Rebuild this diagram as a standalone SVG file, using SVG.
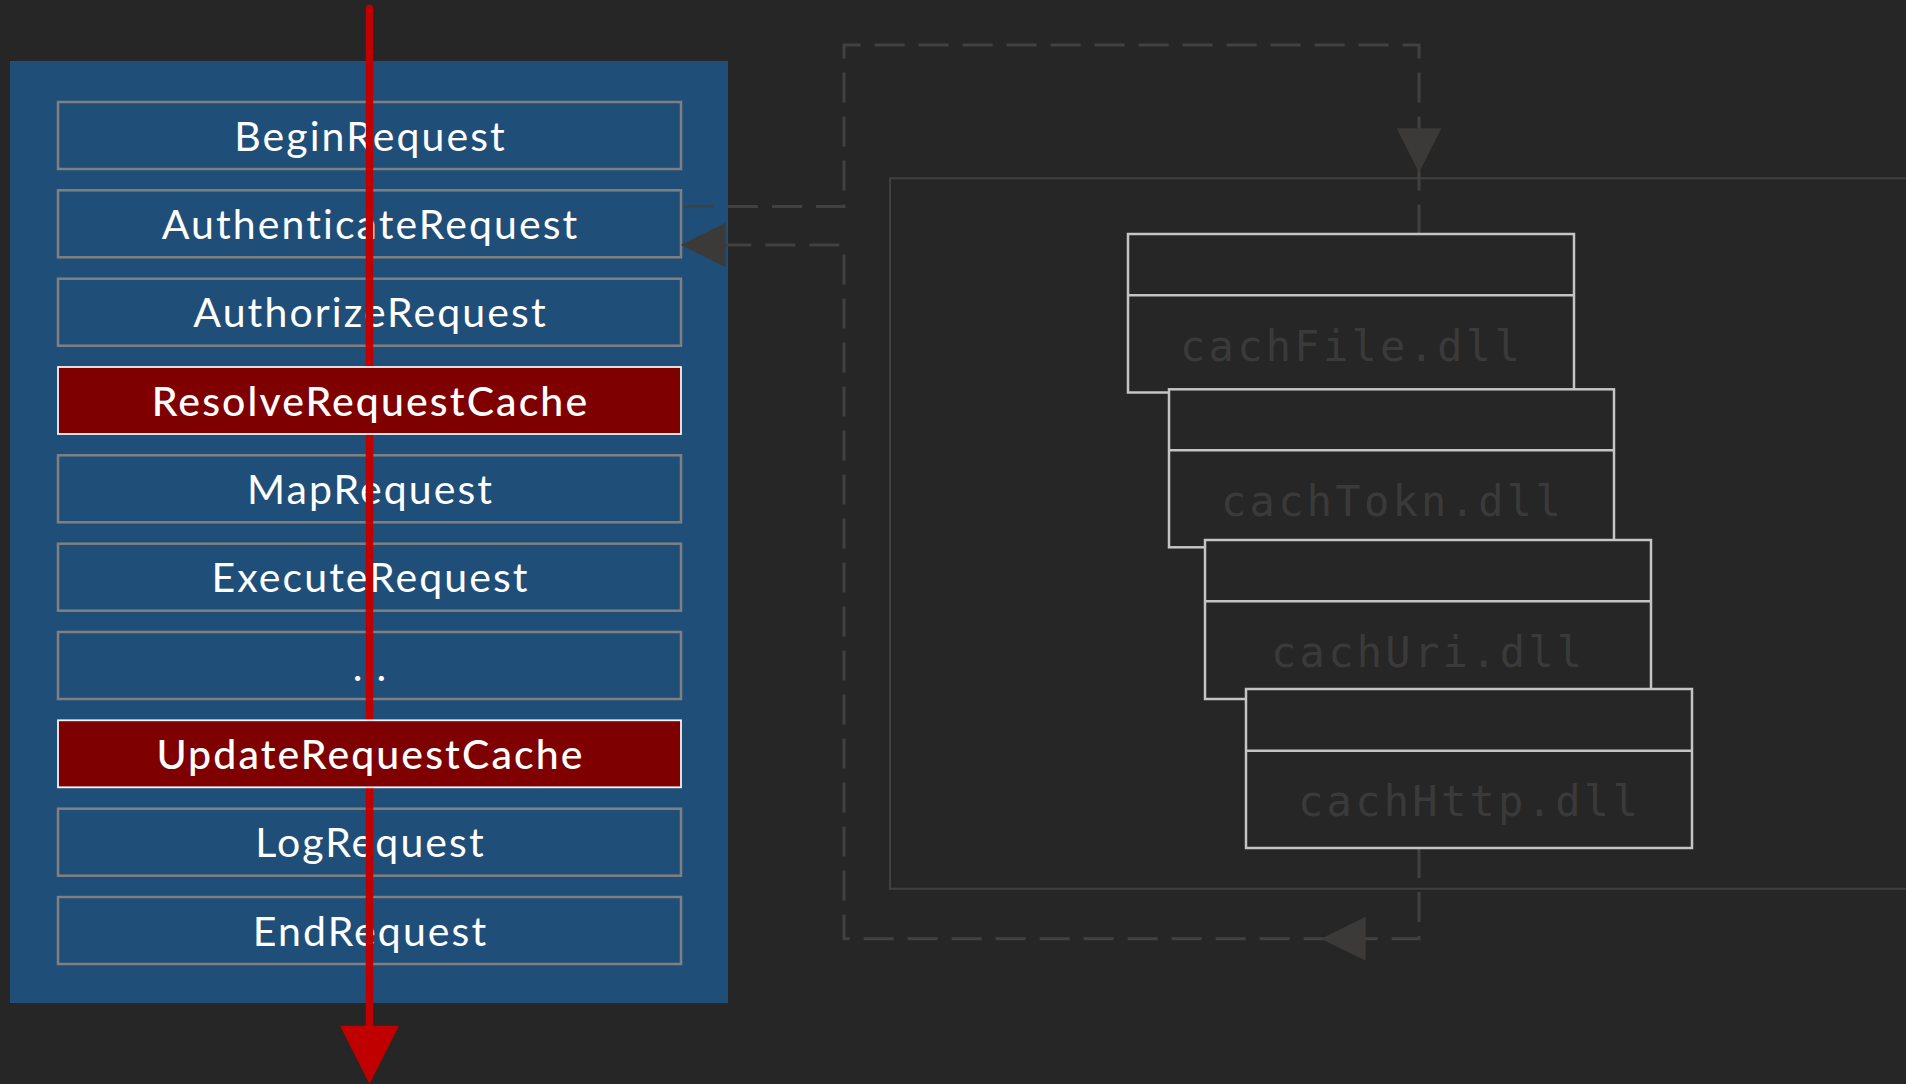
<svg xmlns="http://www.w3.org/2000/svg" width="1906" height="1084" viewBox="0 0 1906 1084">
<style>
.stage rect{fill:#1f4e79;stroke:#808080;stroke-width:2.5}
.hot rect{fill:#7f0000;stroke:#f2f2f2;stroke-width:1.8}
.lbl{font-family:"Lato","Open Sans",sans-serif;font-size:41px;fill:#ffffff;text-anchor:middle;letter-spacing:2.1px}
.hot .lbl{font-weight:500}
.dll rect{fill:#262626;stroke:#c4c4c4;stroke-width:2.5}
.dll line{stroke:#c4c4c4;stroke-width:2.5}
.dll text{font-family:"DejaVu Sans Mono","Liberation Mono",monospace;font-size:42px;fill:#3b3a3a;letter-spacing:3.3px}
.dash{fill:none;stroke:#414141;stroke-width:3;stroke-dasharray:30 14}
.head{fill:#3b3a39}
</style>
<rect width="1906" height="1084" fill="#262626"/>

<g id="pipeline">
<rect x="10" y="61" width="718" height="942" fill="#1f4e79"/>
</g>

<g id="container">
<rect x="890" y="178.3" width="1100" height="710.4" fill="none" stroke="#404040" stroke-width="2"/>
</g>

<g id="BeginRequest" class="stage"><rect x="58" y="102" width="623" height="67"/><text class="lbl" x="370.5" y="150.5">BeginRequest</text></g>
<g id="AuthenticateRequest" class="stage"><rect x="58" y="190.3" width="623" height="67"/><text class="lbl" x="370.5" y="238.8">AuthenticateRequest</text></g>
<g id="AuthorizeRequest" class="stage"><rect x="58" y="278.7" width="623" height="67"/><text class="lbl" x="370.5" y="327.2">AuthorizeRequest</text></g>
<g id="MapRequest" class="stage"><rect x="58" y="455.3" width="623" height="67"/><text class="lbl" x="370.5" y="503.8">MapRequest</text></g>
<g id="ExecuteRequest" class="stage"><rect x="58" y="543.7" width="623" height="67"/><text class="lbl" x="370.5" y="592.2">ExecuteRequest</text></g>
<g id="Ellipsis" class="stage"><rect x="58" y="632" width="623" height="67"/><text class="lbl" x="370.5" y="680.5">...</text></g>
<g id="LogRequest" class="stage"><rect x="58" y="808.7" width="623" height="67"/><text class="lbl" x="370.5" y="857.2">LogRequest</text></g>
<g id="EndRequest" class="stage"><rect x="58" y="897" width="623" height="67"/><text class="lbl" x="370.5" y="945.5">EndRequest</text></g>

<g id="connectors">
<line x1="369.5" y1="8.5" x2="369.5" y2="1030" stroke="#c00000" stroke-width="7.5" stroke-linecap="round"/>
<polygon points="340,1025.7 399,1025.7 369.5,1084" fill="#c00000"/>
<path class="dash" d="M684 206.5 H844 V45 H1419 V234"/>
<polygon class="head" points="1396.7,128.3 1441.3,128.3 1419,172.7"/>
<path class="dash" d="M1419 848 V938.7 H844 V245 H725"/>
<polygon class="head" points="1365.7,916.7 1365.7,960.7 1320.8,938.7"/>
<polygon class="head" points="725.7,222.7 725.7,267.3 680.7,245"/>
</g>

<g id="ResolveRequestCache" class="stage hot"><rect x="58" y="367" width="623" height="67"/><text class="lbl" x="370.5" y="415.5">ResolveRequestCache</text></g>
<g id="UpdateRequestCache" class="stage hot"><rect x="58" y="720.3" width="623" height="67"/><text class="lbl" x="370.5" y="768.8">UpdateRequestCache</text></g>

<g id="cachFile" class="dll"><rect x="1128" y="234" width="446" height="158.5"/><line x1="1128" y1="295.3" x2="1574" y2="295.3"/><text x="1180" y="361">cachFile.dll</text></g>
<g id="cachTokn" class="dll"><rect x="1169" y="389.3" width="445" height="158"/><line x1="1169" y1="450.3" x2="1614" y2="450.3"/><text x="1221" y="516.3">cachTokn.dll</text></g>
<g id="cachUri" class="dll"><rect x="1205" y="540" width="446" height="159"/><line x1="1205" y1="601.3" x2="1651" y2="601.3"/><text x="1271" y="667">cachUri.dll</text></g>
<g id="cachHttp" class="dll"><rect x="1246" y="689" width="446" height="159"/><line x1="1246" y1="750.7" x2="1692" y2="750.7"/><text x="1298" y="816">cachHttp.dll</text></g>
</svg>
